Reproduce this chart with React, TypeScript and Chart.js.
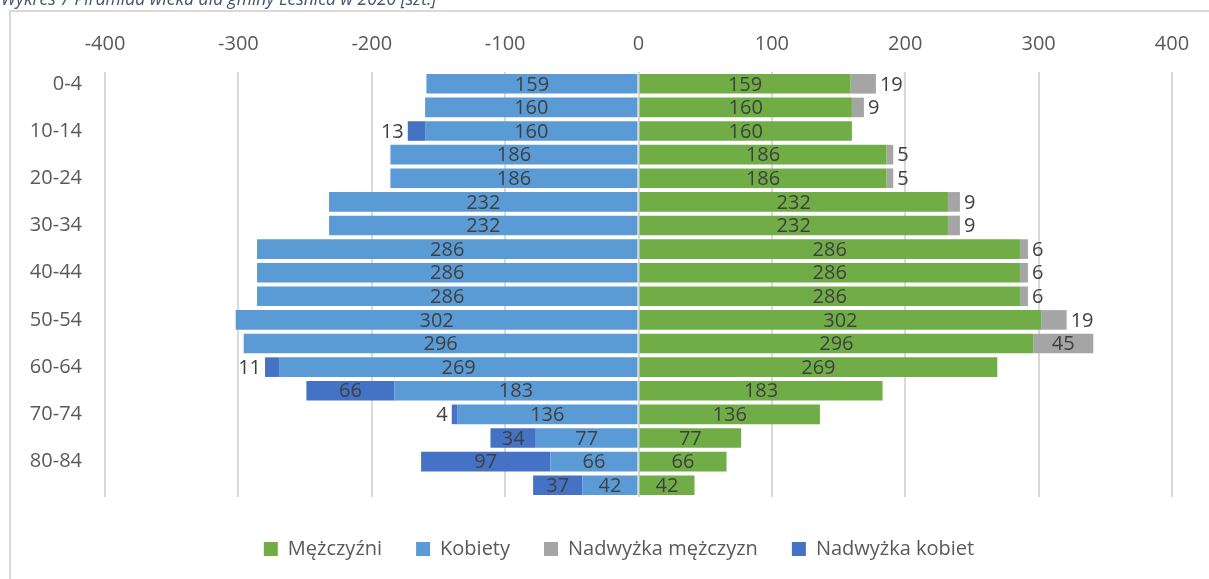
import React, { useEffect, useRef } from 'react';
import { Chart, registerables } from 'chart.js';

Chart.register(...registerables);

const categories = ['0-4', '5-9', '10-14', '15-19', '20-24', '25-29', '30-34', '35-39', '40-44', '45-49', '50-54', '55-59', '60-64', '65-69', '70-74', '75-79', '80-84', '85+'];
const men = [159, 160, 160, 186, 186, 232, 232, 286, 286, 286, 302, 296, 269, 183, 136, 77, 66, 42];
const women = [159, 160, 160, 186, 186, 232, 232, 286, 286, 286, 302, 296, 269, 183, 136, 77, 66, 42];
const menSurplus = [19, 9, null, 5, 5, 9, 9, 6, 6, 6, 19, 45, null, null, null, null, null, null];
const womenSurplus = [null, null, 13, null, null, null, null, null, null, null, null, null, 11, 66, 4, 34, 97, 37];
const seriesNames = ['Mężczyźni', 'Kobiety', 'Nadwyżka mężczyzn', 'Nadwyżka kobiet'];
const xMin = -400;
const xMax = 400;
const xStep = 100;
const titleText = 'Wykres 7 Piramida wieku dla gminy Leśnica w 2020 [szt.]';

const FONT = "'Open Sans', 'DejaVu Sans', sans-serif";

const labelPlugin = {
  id: 'barLabels',
  afterDatasetsDraw(chart: any) {
    const ctx = chart.ctx;
    ctx.save();
    ctx.font = `20px ${FONT}`;
    ctx.fillStyle = '#404040';
    ctx.textBaseline = 'middle';
    chart.data.datasets.forEach((ds: any, di: number) => {
      const meta = chart.getDatasetMeta(di);
      if (meta.hidden) return;
      meta.data.forEach((el: any, i: number) => {
        const v = ds.data[i];
        if (v === null || v === undefined) return;
        const txt = String(Math.abs(v));
        const tw = ctx.measureText(txt).width;
        const w = Math.abs(el.x - el.base);
        const y = el.y + 1;
        if (di < 2 || w >= tw + 8) {
          ctx.textAlign = 'center';
          ctx.fillText(txt, (el.x + el.base) / 2, y);
        } else if (v > 0) {
          ctx.textAlign = 'left';
          ctx.fillText(txt, el.x + 4, y);
        } else {
          ctx.textAlign = 'right';
          ctx.fillText(txt, el.x - 4, y);
        }
      });
    });
    ctx.restore();
  },
};

export default function App() {
  const ref = useRef<HTMLCanvasElement>(null);

  useEffect(() => {
    if (!ref.current) return;
    Chart.defaults.font.family = FONT;
    const common = { stack: 's', xAxisID: 'x', yAxisID: 'y' };
    const chart = new Chart(ref.current, {
      type: 'bar',
      data: {
        labels: categories,
        datasets: [
          { ...common, label: seriesNames[0], data: men, backgroundColor: '#70AD47' },
          { ...common, label: seriesNames[1], data: women.map((v) => -v), backgroundColor: '#5B9BD5' },
          { ...common, label: seriesNames[2], data: menSurplus, backgroundColor: '#A5A5A5' },
          { ...common, label: seriesNames[3], data: womenSurplus.map((v) => (v === null ? null : -v)), backgroundColor: '#4472C4' },
        ] as any,
      },
      options: {
        indexAxis: 'y',
        animation: false,
        responsive: false,
        devicePixelRatio: 1,
        layout: { padding: { left: 29, right: 0, top: 0, bottom: 10 } },
        datasets: { bar: { barPercentage: 0.83, categoryPercentage: 1 } },
        scales: {
          x: {
            type: 'linear',
            position: 'top',
            stacked: true,
            min: xMin,
            max: xMax,
            ticks: {
              stepSize: xStep,
              padding: 16,
              color: '#595959',
              font: { size: 20, family: FONT },
              callback: (v: any) => String(v),
            },
            grid: { color: '#d9d9d9', lineWidth: 2, drawTicks: false },
            border: { display: false },
            afterFit: (s: any) => { s.height = 72; },
          },
          y: {
            type: 'category',
            stacked: true,
            ticks: {
              autoSkip: false,
              padding: 23,
              color: '#595959',
              font: { size: 20, family: FONT },
              callback: (_v: any, idx: number) => (idx % 2 === 0 ? categories[idx] : ''),
            },
            grid: { display: false, drawTicks: false },
            border: { display: false },
            afterFit: (s: any) => { s.width = 76; },
          },
          gap: {
            type: 'linear',
            position: 'bottom',
            axis: 'x',
            display: true,
            grid: { display: false, drawTicks: false },
            ticks: { display: false },
            border: { display: false },
            afterFit: (s: any) => { s.height = 8; },
          },
          gapR: {
            type: 'linear',
            position: 'right',
            axis: 'y',
            display: true,
            grid: { display: false, drawTicks: false },
            ticks: { display: false },
            border: { display: false },
            afterFit: (s: any) => { s.width = 37; },
          },
        } as any,
        plugins: {
          legend: {
            position: 'bottom',
            labels: {
              boxWidth: 14,
              boxHeight: 14,
              padding: 34,
              color: '#595959',
              font: { size: 20, family: FONT },
            },
          },
          tooltip: { enabled: false },
        },
      },
      plugins: [labelPlugin],
    });
    return () => chart.destroy();
  }, []);

  return (
    <div style={{ position: 'absolute', left: 0, top: 0, width: 1209, height: 579, overflow: 'hidden', background: '#fff' }}>
      <canvas ref={ref} width={1209} height={579} style={{ position: 'absolute', left: 0, top: 0, width: 1209, height: 579 }} />
      <div style={{ position: 'absolute', left: 9, top: 10, width: 1300, height: 700, border: '2px solid #d9d9d9', pointerEvents: 'none' }} />
      <div style={{ position: 'absolute', left: 1, top: -14, font: `italic 17.5px ${FONT}`, color: '#44546A', whiteSpace: 'nowrap' }}>{titleText}</div>
    </div>
  );
}
